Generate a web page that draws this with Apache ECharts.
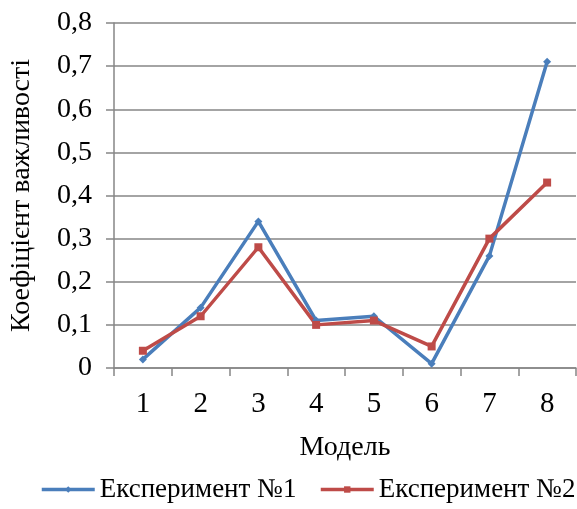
<!DOCTYPE html>
<html><head><meta charset="utf-8">
<script src="https://cdn.jsdelivr.net/npm/echarts@6/dist/echarts.min.js"></script>
<style>html,body{margin:0;padding:0;background:#fff}#c{width:577px;height:509px}</style>
</head><body><div id="c"></div>
<script>
const categories = ['1','2','3','4','5','6','7','8'];
const series1Name = 'Експеримент №1';
const series2Name = 'Експеримент №2';
const series1 = [0.02, 0.14, 0.34, 0.11, 0.12, 0.01, 0.26, 0.71];
const series2 = [0.04, 0.12, 0.28, 0.10, 0.11, 0.05, 0.30, 0.43];
const yTicks = {min: 0, max: 0.8, interval: 0.1};

const font = '"Liberation Serif","Times New Roman",serif';
const axisColor = '#868686';
const legendBase = {
  bottom: 1, itemWidth: 53, itemHeight: 8, itemGap: 6, orient: 'horizontal',
  lineStyle: {width: 3.5},
  textStyle: {fontFamily: font, fontSize: 27, color: '#000'}
};
const chart = echarts.init(document.getElementById('c'), null, {renderer: 'canvas'});
chart.setOption({
  animation: false,
  textStyle: {fontFamily: font},
  grid: {left: 114, right: 1, top: 23, bottom: 141},
  legend: [
    Object.assign({}, legendBase, {left: 35, data: [series1Name]}),
    Object.assign({}, legendBase, {left: 314, data: [series2Name]})
  ],
  xAxis: {
    type: 'category', data: categories, boundaryGap: true,
    name: 'Модель', nameLocation: 'middle', nameGap: 66,
    nameTextStyle: {fontFamily: font, fontSize: 28, color: '#000'},
    axisLine: {lineStyle: {color: axisColor, width: 1.5}},
    axisTick: {show: true, length: 8, lineStyle: {color: axisColor, width: 1.5}},
    axisLabel: {fontFamily: font, fontSize: 29, color: '#000', margin: 22}
  },
  yAxis: {
    type: 'value', min: yTicks.min, max: yTicks.max, interval: yTicks.interval,
    name: 'Коефіцієнт важливості', nameLocation: 'middle', nameGap: 78, nameRotate: 90,
    nameTextStyle: {fontFamily: font, fontSize: 28, color: '#000'},
    axisLine: {show: true, lineStyle: {color: axisColor, width: 1.5}},
    axisTick: {show: true, length: 8, lineStyle: {color: axisColor, width: 1.5}},
    splitLine: {lineStyle: {color: axisColor, width: 1.5}},
    axisLabel: {fontFamily: font, fontSize: 28, color: '#000', margin: 22,
      formatter: v => v === 0 ? '0' : v.toFixed(1).replace('.', ',')}
  },
  series: [
    {name: series1Name, type: 'line', data: series1, symbol: 'diamond', symbolSize: 8,
     lineStyle: {color: '#4A7EBB', width: 3.5}, itemStyle: {color: '#4A7EBB'}},
    {name: series2Name, type: 'line', data: series2, symbol: 'rect', symbolSize: 8,
     lineStyle: {color: '#BE4B48', width: 3.5}, itemStyle: {color: '#BE4B48'}}
  ]
});
</script></body></html>
